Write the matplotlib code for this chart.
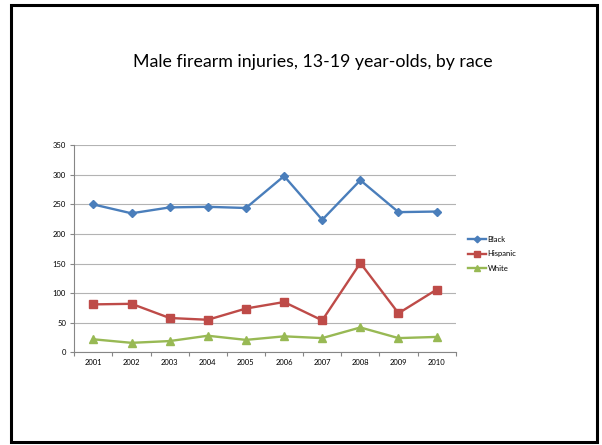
import numpy as np
import matplotlib
matplotlib.use("Agg")
import matplotlib.pyplot as plt
from matplotlib.patches import Rectangle
from matplotlib.ticker import MultipleLocator, FixedLocator

years = ["2001", "2002", "2003", "2004", "2005",
         "2006", "2007", "2008", "2009", "2010"]
black = [250, 235, 245, 246, 244, 298, 224, 291, 237, 238]
hispanic = [81, 82, 58, 55, 74, 85, 54, 151, 66, 106]
white = [22, 16, 19, 28, 21, 27, 24, 42, 24, 26]

title = "Male firearm injuries, 13-19 year-olds, by race"

plt.rcParams['font.family'] = ['Lato', 'DejaVu Sans']

fig = plt.figure(figsize=(6.02, 4.45), dpi=100)

# slide frame
fig.patches.append(Rectangle((11/602, 1 - 442/445), 586/602, 437/445,
                             transform=fig.transFigure, fill=False,
                             edgecolor="black", linewidth=2.2))

fig.text(313/602, 1 - 62/445, title, ha="center", va="center",
         fontsize=12.8, color="black")

ax = fig.add_axes([74.3/602, 1 - 352.3/445, 381.4/602, 207/445])

x = np.arange(1, len(years) + 1)
ax.plot(x, black, color="#4A7EBB", marker="D", markersize=4.2,
        linewidth=1.7, label="Black")
ax.plot(x, hispanic, color="#BE4B48", marker="s", markersize=5.2,
        linewidth=1.7, label="Hispanic")
ax.plot(x, white, color="#98B954", marker="^", markersize=5.2,
        linewidth=1.7, label="White")

ax.set_xlim(0.5, len(years) + 0.5)
ax.set_ylim(0, 350)
ax.yaxis.set_major_locator(MultipleLocator(50))
ax.grid(axis="y", color="#b3b3b3", linewidth=0.8)
ax.set_axisbelow(True)

# category labels centred, tick marks between categories
ax.set_xticks(x)
ax.set_xticklabels(years)
ax.xaxis.set_minor_locator(FixedLocator(np.arange(0.5, len(years) + 1, 1)))
ax.tick_params(axis="x", which="major", length=0, labelsize=5.5, pad=5)
ax.tick_params(axis="x", which="minor", length=3, color="#868686", width=0.8)
ax.tick_params(axis="y", length=3, color="#868686", width=0.8,
               labelsize=5.5, pad=3)

for side in ["top", "right"]:
    ax.spines[side].set_visible(False)
for side in ["left", "bottom"]:
    ax.spines[side].set_color("#868686")
    ax.spines[side].set_linewidth(0.8)

ax.legend(loc="center left", bbox_to_anchor=(1.015, 0.475), frameon=False,
          fontsize=5.5, handlelength=2.3, handletextpad=0.2,
          labelspacing=1.0, markerscale=0.8)

fig.savefig("out.png", dpi=100)
